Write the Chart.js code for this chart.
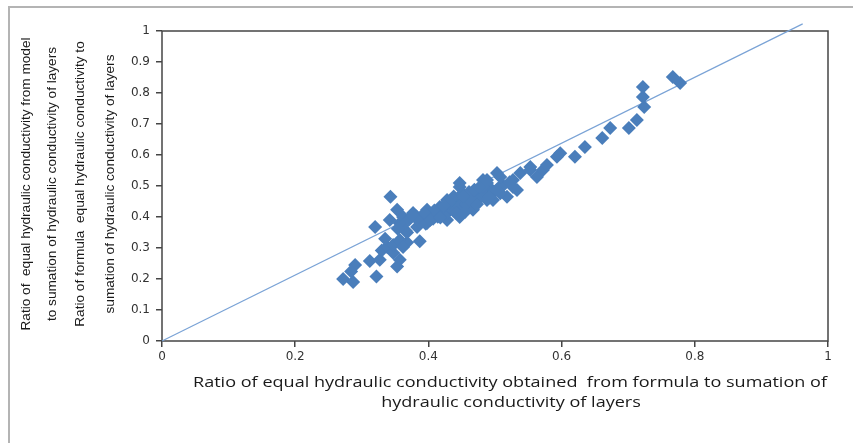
<!DOCTYPE html>
<html>
<head>
<meta charset="utf-8">
<script src="https://cdn.jsdelivr.net/npm/chart.js@4/dist/chart.umd.min.js"></script>
<style>
  body { margin: 0; background: #fff; }
  #wrap { position: relative; width: 853px; height: 443px; overflow: hidden; }
</style>
</head>
<body>
<div id="wrap"><canvas id="chart" width="853" height="443"></canvas></div>
<script>
// formula ratio (x) vs model ratio (y)
const formulaRatio = [
  0.272, 0.287, 0.290, 0.284, 0.312, 0.322, 0.327, 0.330, 0.338, 0.347, 0.353, 0.357,
  0.343, 0.320, 0.347, 0.368, 0.387, 0.353, 0.342, 0.357, 0.368, 0.357, 0.362, 0.335,
  0.362, 0.377, 0.398, 0.417, 0.428, 0.447, 0.467, 0.488, 0.383, 0.398, 0.428, 0.447,
  0.467, 0.497, 0.518, 0.371, 0.382, 0.392, 0.401, 0.412, 0.421, 0.433, 0.441, 0.452,
  0.458, 0.472, 0.478, 0.493, 0.376, 0.386, 0.396, 0.407, 0.414, 0.426, 0.437, 0.446,
  0.456, 0.463, 0.476, 0.486, 0.498, 0.505, 0.438, 0.451, 0.461, 0.469, 0.482, 0.431,
  0.423, 0.409, 0.394, 0.361, 0.366, 0.354, 0.403, 0.418, 0.442, 0.455, 0.473, 0.491,
  0.512, 0.522, 0.447, 0.482, 0.503, 0.508, 0.527, 0.477, 0.452, 0.508, 0.488, 0.503,
  0.533, 0.527, 0.488, 0.538, 0.553, 0.563, 0.553, 0.572, 0.578, 0.593, 0.598, 0.620,
  0.635, 0.661, 0.673, 0.701, 0.713, 0.724, 0.722, 0.722, 0.767, 0.778
];
const modelRatio = [
  0.200, 0.190, 0.245, 0.224, 0.258, 0.208, 0.262, 0.292, 0.303, 0.285, 0.240, 0.262,
  0.465, 0.368, 0.310, 0.318, 0.322, 0.423, 0.390, 0.380, 0.350, 0.326, 0.303, 0.330,
  0.400, 0.413, 0.423, 0.432, 0.455, 0.497, 0.465, 0.510, 0.368, 0.381, 0.390, 0.400,
  0.423, 0.455, 0.465, 0.392, 0.402, 0.396, 0.407, 0.410, 0.418, 0.431, 0.443, 0.452,
  0.462, 0.470, 0.483, 0.492, 0.407, 0.386, 0.378, 0.394, 0.401, 0.409, 0.421, 0.433,
  0.441, 0.452, 0.458, 0.471, 0.482, 0.493, 0.466, 0.476, 0.481, 0.488, 0.498, 0.446,
  0.436, 0.421, 0.412, 0.372, 0.356, 0.362, 0.391, 0.398, 0.412, 0.416, 0.441, 0.462,
  0.502, 0.512, 0.510, 0.519, 0.542, 0.529, 0.497, 0.497, 0.465, 0.477, 0.519, 0.487,
  0.487, 0.519, 0.455, 0.542, 0.552, 0.529, 0.561, 0.552, 0.568, 0.594, 0.606, 0.594,
  0.626, 0.655, 0.687, 0.687, 0.713, 0.755, 0.787, 0.819, 0.852, 0.832
];

// fitted line end points
const trendX = [0, 0.962];
const trendY = [0, 1.023];

const yTicks = [0, 0.1, 0.2, 0.3, 0.4, 0.5, 0.6, 0.7, 0.8, 0.9, 1];
const xTicks = [0, 0.2, 0.4, 0.6, 0.8, 1];

const yTitle = [
  "Ratio of  equal hydraulic conductivity from model",
  "to sumation of hydraulic conductivity of layers",
  "Ratio of formula  equal hydraulic conductivity to",
  "sumation of hydraulic conductivity of layers"
];
const xTitle = [
  "Ratio of equal hydraulic conductivity obtained  from formula to sumation of",
  "hydraulic conductivity of layers"
];

const points = formulaRatio.map((x, i) => ({ x: x, y: modelRatio[i] }));
const trend = trendX.map((x, i) => ({ x: x, y: trendY[i] }));

// draw a text line squeezed/stretched along its baseline by a common factor
function drawLine(ctx, text, x, y, k, angle) {
  ctx.save();
  ctx.translate(x, y);
  ctx.rotate(angle);
  ctx.scale(k, 1);
  ctx.fillText(text, 0, 0);
  ctx.restore();
}

const frame = {
  id: "frame",
  beforeDraw(chart) {
    const ctx = chart.ctx;
    ctx.save();
    ctx.fillStyle = "#fff";
    ctx.fillRect(0, 0, chart.width, chart.height);
    ctx.strokeStyle = "#b4b4b4";
    ctx.lineWidth = 2;
    ctx.strokeRect(9, 7, chart.width + 20, chart.height + 20);
    ctx.restore();
  },
  beforeDatasetsDraw(chart) {
    const a = chart.chartArea;
    const ctx = chart.ctx;
    ctx.save();
    ctx.strokeStyle = "#454545";
    ctx.lineWidth = 1.5;
    ctx.strokeRect(a.left, a.top, a.right - a.left, a.bottom - a.top);
    ctx.restore();
  },
  afterDraw(chart) {
    const ctx = chart.ctx;
    ctx.save();
    ctx.fillStyle = "#1a1a1a";
    ctx.textAlign = "center";
    ctx.textBaseline = "middle";

    // x title, first line spans about 634px
    ctx.font = "15px 'Open Sans'";
    const kx = 634 / ctx.measureText(xTitle[0]).width;
    drawLine(ctx, xTitle[0], 510, 383, kx, 0);
    drawLine(ctx, xTitle[1], 511, 403, kx, 0);

    // y title, rotated, first line spans about 293px
    ctx.font = "13px 'Liberation Sans'";
    const ky = 293 / ctx.measureText(yTitle[0]).width;
    const cols = [26, 52, 80, 110];
    yTitle.forEach((t, i) => {
      drawLine(ctx, t, cols[i], 184, ky, -Math.PI / 2);
    });
    ctx.restore();
  }
};

new Chart(document.getElementById("chart"), {
  type: "scatter",
  data: {
    datasets: [
      {
        label: "data",
        data: points,
        pointStyle: "rectRot",
        pointRadius: 7,
        pointHoverRadius: 7,
        backgroundColor: "#4a7ebb",
        borderColor: "#4a7ebb",
        borderWidth: 0
      },
      {
        label: "fit",
        type: "line",
        data: trend,
        borderColor: "#7aa3d6",
        borderWidth: 1.2,
        pointRadius: 0,
        fill: false,
        clip: false
      }
    ]
  },
  options: {
    responsive: false,
    animation: false,
    events: [],
    layout: { padding: { left: 0, top: 31, right: 25, bottom: 0 } },
    plugins: { legend: { display: false }, tooltip: { enabled: false } },
    scales: {
      x: {
        type: "linear",
        min: 0,
        max: 1,
        afterBuildTicks: (s) => { s.ticks = xTicks.map((v) => ({ value: v })); },
        afterFit: (s) => { s.height = 102; },
        grid: { drawOnChartArea: false, drawTicks: true, tickLength: 6, color: "#454545", lineWidth: 1.5 },
        border: { display: false },
        ticks: {
          color: "#333",
          font: { family: "DejaVu Sans", size: 12 },
          padding: 3,
          maxRotation: 0,
          callback: (v) => String(+v.toFixed(1))
        }
      },
      y: {
        type: "linear",
        min: 0,
        max: 1,
        afterBuildTicks: (s) => { s.ticks = yTicks.map((v) => ({ value: v })); },
        afterFit: (s) => { s.width = 162; },
        grid: { drawOnChartArea: false, drawTicks: true, tickLength: 6, color: "#454545", lineWidth: 1.5 },
        border: { display: false },
        ticks: {
          color: "#333",
          font: { family: "DejaVu Sans", size: 12 },
          padding: 6,
          callback: (v) => String(+v.toFixed(1))
        }
      }
    }
  },
  plugins: [frame]
});
</script>
</body>
</html>
